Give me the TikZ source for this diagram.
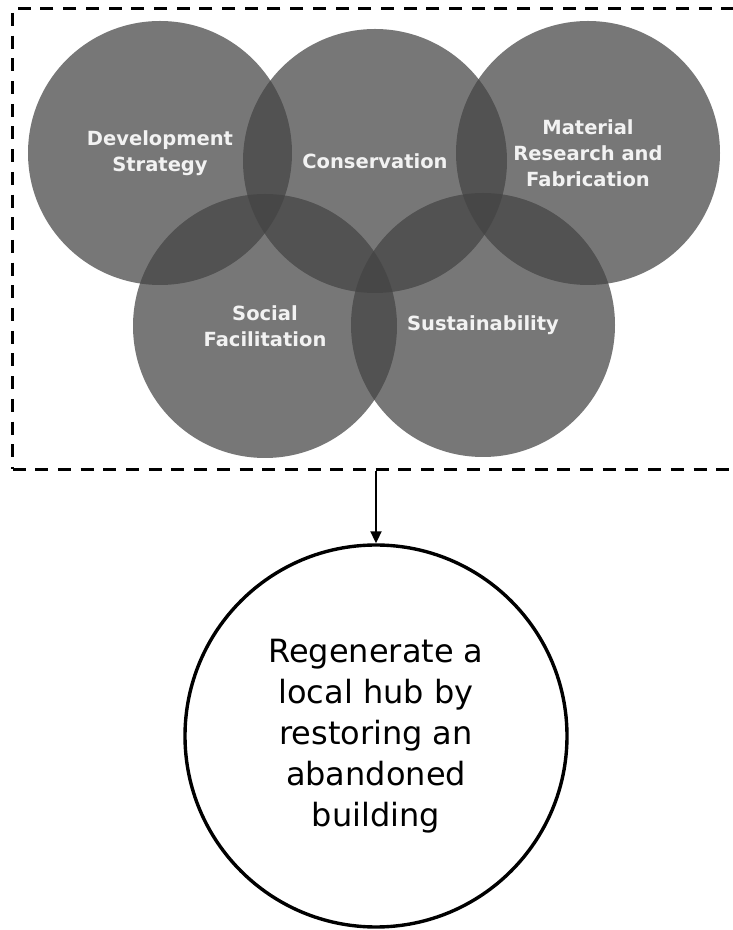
\documentclass[tikz,border=0pt]{standalone}
\usepackage{fontspec}
\setmainfont{DejaVu Sans}
\usetikzlibrary{arrows.meta}
\definecolor{ringgray}{RGB}{67,67,67}
\definecolor{ringtext}{RGB}{242,242,242}
\tikzset{
  ring/.style={circle, minimum size=264pt, inner sep=0pt, fill=ringgray, fill opacity=0.72, text opacity=1,
    text=ringtext, font=\fontsize{19.5}{26}\selectfont\bfseries, align=center},
  goalcircle/.style={circle, draw=black, line width=3.4pt, minimum size=382pt, inner sep=0pt,
    font=\fontsize{32}{41}\selectfont, align=center, text=black},
  framebox/.style={draw=black, line width=3pt, dash pattern=on 13pt off 9.7pt, minimum width=732pt,
    minimum height=461pt, inner sep=0pt},
  link/.style={line width=2pt, -{Triangle[length=12pt,width=11pt]}}
}
\begin{document}
\begin{tikzpicture}[x=1pt,y=1pt]
\useasboundingbox (0,0) rectangle (733,930);
\node[framebox] (box) at (378.5,691) {};
\node[ring] (dev) at (160,777) {Development\\Strategy};
\node[ring] (cons) at (375,769) {Conservation};
\node[ring] (mat) at (588,777) {Material\\Research and\\Fabrication};
\node[ring] (soc) at (265,604) {Social\\Facilitation};
\node[ring] (sus) at (483,605) {Sustainability};
\node[goalcircle] (goal) at (376,194) {Regenerate a\\local hub by\\restoring an\\abandoned\\building};
\draw[link] (goal.north |- box.south) -- (goal.north);
\end{tikzpicture}
\end{document}
